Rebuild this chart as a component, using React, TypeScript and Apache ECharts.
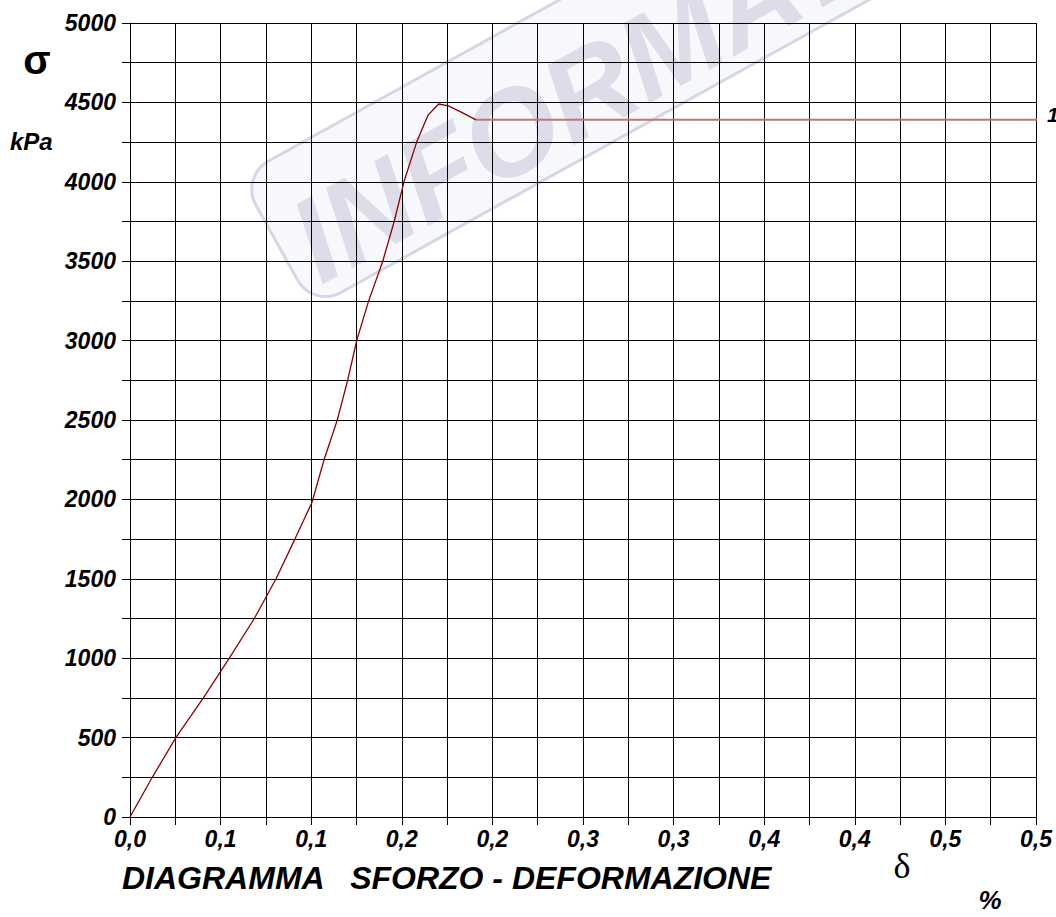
import React, { useEffect, useRef } from "react";
import * as echarts from "echarts";

// Strain (%) and stress (kPa)
const strain = [0, 0.0123, 0.0253, 0.0405, 0.0548, 0.0686, 0.0806, 0.091, 0.1004, 0.1071, 0.1144, 0.1201, 0.1251, 0.1317, 0.1395, 0.1458, 0.1512, 0.1582, 0.1645, 0.1703, 0.1757, 0.1825, 0.191];
const stress = [0, 250, 500, 750, 1000, 1250, 1500, 1750, 1980, 2250, 2500, 2750, 3000, 3250, 3500, 3750, 4000, 4250, 4420, 4490, 4478, 4440, 4390];

// Residual plateau line
const plateauStrain = [0.191, 0.5035];
const plateauStress = [4390, 4390];
const plateauLabel = "1";

// Tick labels as printed on the reference (rounded to one decimal)
const xTickLabels = ["0,0", "0,1", "0,1", "0,2", "0,2", "0,3", "0,3", "0,4", "0,4", "0,5", "0,5"];

const titleText = "DIAGRAMMA   SFORZO - DEFORMAZIONE";
const watermarkText = "INFORMAT";

const FONT = "Liberation Sans, Arial, sans-serif";

export default function App() {
  const ref = useRef<HTMLDivElement>(null);

  useEffect(() => {
    if (!ref.current) return;
    const chart = echarts.init(ref.current, undefined, { renderer: "svg" });
    const labelStyle = {
      color: "#000",
      fontFamily: FONT,
      fontWeight: "bold" as const,
      fontStyle: "italic" as const,
      fontSize: 23,
    };
    const rot = (29 * Math.PI) / 180;
    chart.setOption({
      animation: false,
      backgroundColor: "#fff",
      grid: { left: 130, right: 20, top: 23, bottom: 100 },
      xAxis: {
        type: "value",
        min: 0,
        max: 0.5,
        interval: 0.025,
        axisLine: { show: true, onZero: false, lineStyle: { color: "#000", width: 1 } },
        axisTick: { show: true, length: 8, lineStyle: { color: "#000", width: 1 } },
        splitLine: { show: true, lineStyle: { color: "#000", width: 1 } },
        axisLabel: {
          ...labelStyle,
          margin: 10,
          formatter: (v: number) => {
            const i = Math.round(v / 0.05);
            return Math.abs(v - i * 0.05) < 1e-6 ? xTickLabels[i] ?? "" : "";
          },
        },
      },
      yAxis: {
        type: "value",
        min: 0,
        max: 5000,
        interval: 250,
        axisLine: { show: true, onZero: false, lineStyle: { color: "#000", width: 1 } },
        axisTick: { show: true, length: 8, lineStyle: { color: "#000", width: 1 } },
        splitLine: { show: true, lineStyle: { color: "#000", width: 1 } },
        axisLabel: {
          ...labelStyle,
          margin: 14,
          formatter: (v: number) => (Math.round(v) % 500 === 0 ? String(Math.round(v)) : ""),
        },
      },
      series: [
        {
          type: "line",
          data: strain.map((x, i) => [x, stress[i]]),
          symbol: "none",
          showSymbol: false,
          lineStyle: { color: "#8b0000", width: 1.3 },
          z: 4,
        },
        {
          type: "line",
          data: plateauStrain.map((x, i) => [x, plateauStress[i]]),
          symbol: "none",
          showSymbol: false,
          clip: false,
          lineStyle: { color: "#c07575", width: 2 },
          endLabel: {
            show: true,
            formatter: plateauLabel,
            distance: 10,
            offset: [0, -5],
            color: "#000",
            fontFamily: FONT,
            fontWeight: "bold",
            fontStyle: "italic",
            fontSize: 21,
          },
          z: 3,
        },
      ],
      graphic: [
        {
          type: "group",
          x: 313,
          y: 308,
          rotation: rot,
          z: -10,
          silent: true,
          children: [
            {
              type: "rect",
              z: -10,
              shape: { x: 0, y: -150, width: 1000, height: 150, r: 32 },
              style: { fill: "#f7f8fc", stroke: "#d6d7e6", lineWidth: 3 },
            },
            {
              type: "text",
              z: -9,
              x: 18,
              y: -58,
              style: {
                text: watermarkText,
                fill: "#dcdde9",
                font: `italic bold 120px ${FONT}`,
                align: "left",
                verticalAlign: "middle",
              },
            },
          ],
        },
        {
          type: "text",
          x: 37,
          y: 60,
          z: 10,
          style: {
            text: "σ",
            fill: "#000",
            font: `bold 40px ${FONT}`,
            align: "center",
            verticalAlign: "middle",
          },
        },
        {
          type: "text",
          x: 10,
          y: 141,
          z: 10,
          style: {
            text: "kPa",
            fill: "#000",
            font: `italic bold 24px ${FONT}`,
            align: "left",
            verticalAlign: "middle",
          },
        },
        {
          type: "text",
          x: 122,
          y: 878,
          z: 10,
          style: {
            text: titleText,
            fill: "#000",
            font: `italic bold 32px ${FONT}`,
            align: "left",
            verticalAlign: "middle",
          },
        },
        {
          type: "text",
          x: 902,
          y: 866,
          z: 10,
          style: {
            text: "δ",
            fill: "#000",
            font: `36px Liberation Serif, Times New Roman, serif`,
            align: "center",
            verticalAlign: "middle",
          },
        },
        {
          type: "text",
          x: 990,
          y: 900,
          z: 10,
          style: {
            text: "%",
            fill: "#000",
            font: `italic bold 26px ${FONT}`,
            align: "center",
            verticalAlign: "middle",
          },
        },
      ],
    });
    return () => chart.dispose();
  }, []);

  return (
    <div
      ref={ref}
      style={{ position: "absolute", left: 0, top: 0, width: 1056, height: 917 }}
    />
  );
}
